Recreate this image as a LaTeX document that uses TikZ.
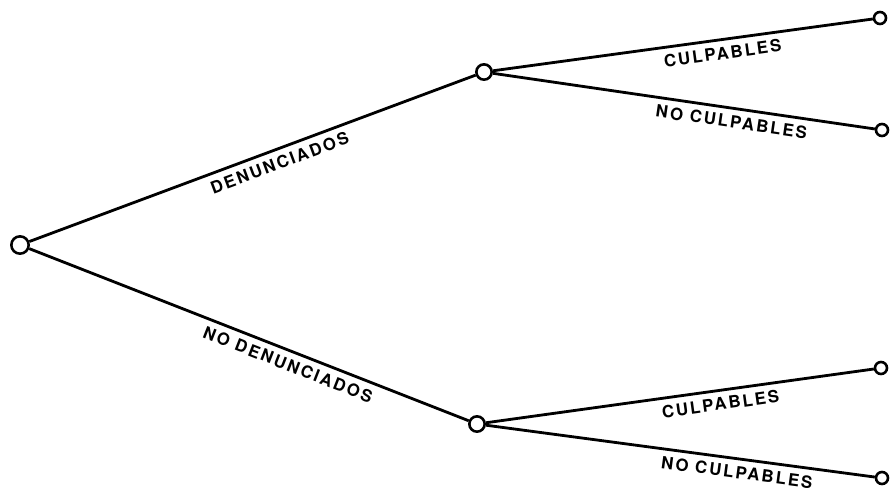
\documentclass[tikz,border=0pt]{standalone}
\usepackage{fontspec}
\setsansfont{TeX Gyre Heros}
\usetikzlibrary{positioning}

\begin{document}
\begin{tikzpicture}[
  x=0.03cm,y=-0.03cm,
  font=\sffamily\bfseries\Large\addfontfeature{LetterSpace=12},
  st/.style={draw,circle,line width=2.2pt,inner sep=0pt},
  root/.style={st,minimum size=0.52cm},
  mid/.style={st,minimum size=0.46cm},
  leaf/.style={st,minimum size=0.36cm},
  br/.style={line width=2.4pt},
  lab/.style={sloped,below=3pt,inner sep=2pt},
]
\useasboundingbox (0,0) rectangle (891,493);
% nodes
\node[root] (r) at (20,245) {};
\node[mid] (den) at (484,72) {};
\node[mid] (noden) at (477,424) {};
\node[leaf] (dc) at (880,18) {};
\node[leaf] (dnc) at (882,130) {};
\node[leaf] (nc) at (881,368) {};
\node[leaf] (nnc) at (882,478) {};
% branches
\draw[br] (r)--(den) node[lab,pos=0.55] {DENUNCIADOS};
\draw[br] (r)--(noden) node[lab,pos=0.6] {NO DENUNCIADOS};
\draw[br] (den)--(dc) node[lab,pos=0.6] {CULPABLES};
\draw[br] (den)--(dnc) node[lab,pos=0.63] {NO CULPABLES};
\draw[br] (noden)--(nc) node[lab,pos=0.6] {CULPABLES};
\draw[br] (noden)--(nnc) node[lab,pos=0.65] {NO CULPABLES};
\end{tikzpicture}
\end{document}
